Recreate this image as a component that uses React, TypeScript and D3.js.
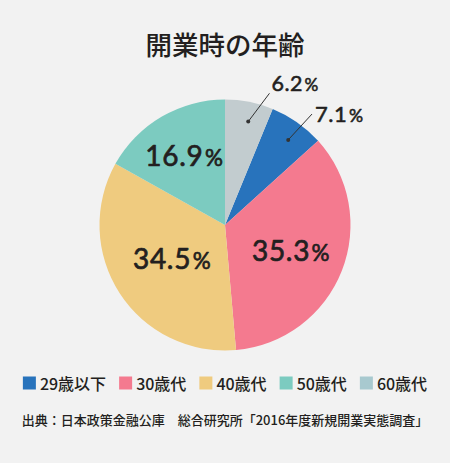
import React, { useEffect, useRef } from "react";
import * as d3 from "d3";

const categories = ["29歳以下", "30歳代", "40歳代", "50歳代", "60歳代"];
const values = [7.1, 35.3, 34.5, 16.9, 6.2];
const sliceColors = ["#2873bc", "#f47a8f", "#efcb7f", "#7ccbc0", "#c2cccf"];
const legendColors = ["#2873bc", "#f47a8f", "#efcb7f", "#7ccbc0", "#a8c9cf"];
const pieOrder = ["60歳代", "29歳以下", "30歳代", "40歳代", "50歳代"];
const title = "開業時の年齢";
const source = "出典：日本政策金融公庫　総合研究所「2016年度新規開業実態調査」";

const W = 450;
const H = 463;
const NUM_FONT = "Lato, 'Noto Sans', sans-serif";
const JP_FONT = "'Noto Sans CJK JP', 'Noto Sans', sans-serif";
const INK = "#231f20";

type Datum = { cat: string; value: number; color: string };

export default function App() {
  const ref = useRef<SVGSVGElement | null>(null);

  useEffect(() => {
    const svg = d3.select(ref.current);
    svg.selectAll("*").remove();

    svg.append("rect").attr("width", W).attr("height", H).attr("fill", "#f2f2f2");

    svg
      .append("text")
      .attr("x", W / 2)
      .attr("y", 55)
      .attr("text-anchor", "middle")
      .attr("font-family", JP_FONT)
      .attr("font-weight", 500)
      .attr("font-size", 26.5)
      .attr("fill", INK)
      .text(title);

    const data: Datum[] = categories.map((c, i) => ({ cat: c, value: values[i], color: sliceColors[i] }));
    const cx = 225;
    const cy = 225;
    const R = 125.5;

    const pie = d3
      .pie<Datum>()
      .value((d) => d.value)
      .sort((a, b) => pieOrder.indexOf(a.cat) - pieOrder.indexOf(b.cat))
      .startAngle(0)
      .endAngle(Math.PI * 2);
    const arcs = pie(data);
    const arc = d3.arc<d3.PieArcDatum<Datum>>().innerRadius(0).outerRadius(R);

    const g = svg.append("g").attr("transform", `translate(${cx},${cy})`);
    g.selectAll("path")
      .data(arcs)
      .join("path")
      .attr("d", arc)
      .attr("fill", (d) => d.data.color);

    const inside: Record<string, number> = { "30歳代": 71, "40歳代": 63, "50歳代": 80 };
    const outside: Record<string, { da: number; r2: number; tx: number; ty: number; fs: number }> = {
      "60歳代": { da: 7.5, r2: 139, tx: 2, ty: -2, fs: 21.5 },
      "29歳以下": { da: 3, r2: 141, tx: 3, ty: 8, fs: 22 },
    };

    const polar = (a: number, r: number): [number, number] => [Math.sin(a) * r, -Math.cos(a) * r];

    const addLabel = (x: number, y: number, v: number, fs: number, anchor: string) => {
      const t = g
        .append("text")
        .attr("x", x)
        .attr("y", y)
        .attr("text-anchor", anchor)
        .attr("font-family", NUM_FONT)
        .attr("font-weight", 400)
        .attr("font-size", fs)
        .attr("letter-spacing", fs * 0.025)
        .attr("fill", INK)
        .attr("stroke", INK)
        .attr("stroke-width", fs * 0.025)
        .attr("stroke-linejoin", "round");
      t.append("tspan").text(v.toFixed(1));
      t.append("tspan").attr("font-size", fs * 0.8).attr("dx", 1.5).text("%");
    };

    arcs.forEach((a) => {
      const mid = (a.startAngle + a.endAngle) / 2;
      if (inside[a.data.cat] !== undefined) {
        const [x, y] = polar(mid, inside[a.data.cat]);
        addLabel(x, y + 10, a.data.value, 28, "middle");
      } else if (outside[a.data.cat]) {
        const o = outside[a.data.cat];
        const [x1, y1] = polar(mid + (1.5 * Math.PI) / 180, 106);
        const [x2, y2] = polar(mid + (o.da * Math.PI) / 180, o.r2);
        g.append("line")
          .attr("x1", x1)
          .attr("y1", y1)
          .attr("x2", x2)
          .attr("y2", y2)
          .attr("stroke", "#333")
          .attr("stroke-width", 1);
        g.append("circle").attr("cx", x1).attr("cy", y1).attr("r", 2).attr("fill", "#333");
        addLabel(x2 + o.tx, y2 + o.ty, a.data.value, o.fs, "start");
      }
    });

    // legend
    const lg = svg.append("g");
    const items: { g: any; w: number }[] = [];
    categories.forEach((c, i) => {
      const ig = lg.append("g");
      ig.append("rect")
        .attr("x", 0)
        .attr("y", -6.5)
        .attr("width", 13)
        .attr("height", 13)
        .attr("fill", legendColors[i]);
      const t = ig
        .append("text")
        .attr("x", 17)
        .attr("y", 6.5)
        .attr("font-family", JP_FONT)
        .attr("font-weight", 500)
        .attr("font-size", 16)
        .attr("fill", INK)
        .text(c);
      const tw = (t.node() as SVGTextElement).getComputedTextLength();
      items.push({ g: ig, w: 17 + tw });
    });
    const gap = 13;
    const total = items.reduce((s, it) => s + it.w, 0) + gap * (items.length - 1);
    let x = W / 2 - total / 2;
    items.forEach((it) => {
      it.g.attr("transform", `translate(${x},383)`);
      x += it.w + gap;
    });

    svg
      .append("text")
      .attr("x", W / 2)
      .attr("y", 425)
      .attr("text-anchor", "middle")
      .attr("font-family", JP_FONT)
      .attr("font-weight", 500)
      .attr("font-size", 13)
      .attr("fill", INK)
      .text(source);
  }, []);

  return (
    <svg
      ref={ref}
      width={W}
      height={H}
      viewBox={`0 0 ${W} ${H}`}
      style={{ position: "absolute", left: 0, top: 0, display: "block" }}
    />
  );
}
